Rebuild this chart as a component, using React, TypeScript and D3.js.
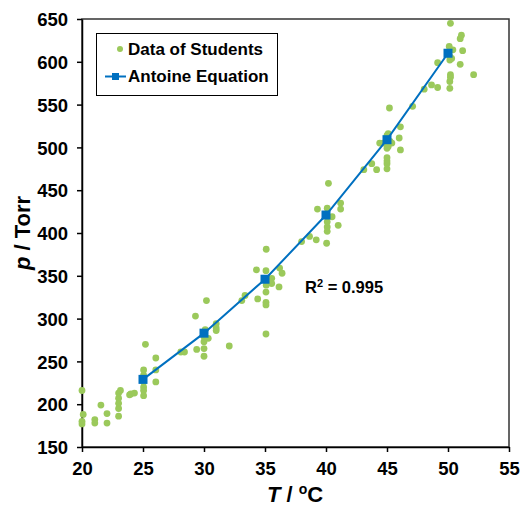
import { useEffect, useRef } from "react";
import * as d3 from "d3";

// student measurements (T in °C, p in Torr)
const studentT = [
  20.0, 20.1, 20.0, 20.0, 21.05, 21.05, 21.55, 22.05, 22.05, 23.0, 23.15, 23.0, 23.0, 23.0, 23.0,
  23.9, 24.0, 24.3, 25.05, 25.05, 25.05, 25.05, 25.05, 25.05, 25.2, 26.05, 26.05, 26.05,
  28.1, 28.4, 29.3, 29.4, 30.2, 30.1, 30.0, 30.0, 30.0, 30.0, 30.35, 31.0, 31.0, 31.0,
  32.07, 33.1, 33.36, 34.3, 34.4, 35.1, 35.08, 35.1, 35.08, 35.08, 35.08, 35.08, 35.55, 35.55,
  36.2, 36.4, 36.15, 38.0, 38.65, 39.2, 39.3, 40.05, 40.1, 40.1, 40.1, 40.1, 40.2, 40.5, 41.0,
  41.2, 41.2, 43.1, 43.75, 44.15, 44.4, 44.7, 45.0, 45.0, 45.0, 45.0, 45.0, 45.1, 45.0, 45.1,
  45.2, 45.25, 45.4, 46.0, 46.1, 46.1, 47.1, 48.05, 48.65, 49.15, 49.15, 50.15, 50.15, 50.2,
  50.2, 50.15, 50.3, 50.15, 50.4, 50.1, 50.2, 51.0, 51.0, 51.1, 51.2, 52.1,
];
const studentP = [
  216, 188, 180, 177, 182, 178, 199, 189, 178, 213, 216, 207, 201, 195, 186,
  211, 212, 213, 240, 234, 226, 220, 216, 210, 270, 254, 240, 226,
  261, 261, 303, 264, 321, 287, 279, 273, 265, 256, 277, 294, 289, 286,
  268, 321, 327, 357, 323, 381, 356, 339, 331, 319, 316, 282, 347, 341,
  359, 353, 337, 390, 396, 392, 428, 388, 402, 407, 413, 429, 458, 419, 409,
  435, 428, 474, 481, 474, 505, 505, 475, 481, 484, 488, 499, 501, 514, 516,
  546, 507, 505, 511, 524, 497, 548, 568, 573, 570, 599, 569, 577, 582,
  585, 602, 604, 606, 614, 618, 645, 597, 627, 631, 613, 585,
];

// Antoine equation fit
const antoineT = [25, 30, 35, 40, 45, 50];
const antoineP = [229, 283, 346, 421, 509, 610];

const xTicks = [20, 25, 30, 35, 40, 45, 50, 55];
const yTicks = [150, 200, 250, 300, 350, 400, 450, 500, 550, 600, 650];

const FONT = "'Liberation Sans', Arial, Helvetica, sans-serif";
const GREEN = "#9bc95b";
const BLUE = "#0070c0";

export default function App() {
  const svgRef = useRef<SVGSVGElement>(null);
  const width = 523;
  const height = 507;

  useEffect(() => {
    const margin = { top: 19, right: 14, bottom: 60, left: 82 };
    const svg = d3.select(svgRef.current);
    svg.selectAll("*").remove();

    const x = d3.scaleLinear().domain([20, 55]).range([margin.left, width - margin.right]);
    const y = d3.scaleLinear().domain([150, 650]).range([height - margin.bottom, margin.top]);

    // frame
    svg
      .append("rect")
      .attr("x", margin.left)
      .attr("y", margin.top)
      .attr("width", width - margin.right - margin.left)
      .attr("height", height - margin.bottom - margin.top)
      .attr("fill", "none")
      .attr("stroke", "#333")
      .attr("stroke-width", 1.5);

    const xAxis = svg
      .append("g")
      .attr("transform", `translate(0,${height - margin.bottom})`)
      .call(d3.axisBottom(x).tickValues(xTicks).tickSize(5).tickSizeOuter(0).tickPadding(10));
    const yAxis = svg
      .append("g")
      .attr("transform", `translate(${margin.left},0)`)
      .call(d3.axisLeft(y).tickValues(yTicks).tickSize(5).tickSizeOuter(0).tickPadding(9));

    [xAxis, yAxis].forEach((g) => {
      g.select(".domain").attr("stroke", "#000").attr("stroke-width", 1.5);
      g.selectAll(".tick line").attr("stroke", "#000").attr("stroke-width", 1.5);
      g.selectAll(".tick text")
        .attr("fill", "#000")
        .style("font-family", FONT)
        .style("font-weight", "bold")
        .style("font-size", "18.5px");
    });
    yAxis.selectAll(".tick text").attr("dy", "0.36em");

    // student points
    svg
      .append("g")
      .selectAll("circle")
      .data(studentT.map((t, i) => [t, studentP[i]]))
      .enter()
      .append("circle")
      .attr("cx", (d) => x(d[0]))
      .attr("cy", (d) => y(d[1]))
      .attr("r", 3.4)
      .attr("fill", GREEN);

    // antoine line
    const antoine = antoineT.map((t, i) => [t, antoineP[i]] as [number, number]);
    svg
      .append("path")
      .attr("d", d3.line<[number, number]>().x((d) => x(d[0])).y((d) => y(d[1]))(antoine))
      .attr("fill", "none")
      .attr("stroke", BLUE)
      .attr("stroke-width", 2);
    svg
      .append("g")
      .selectAll("rect")
      .data(antoine)
      .enter()
      .append("rect")
      .attr("x", (d) => x(d[0]) - 4.5)
      .attr("y", (d) => y(d[1]) - 4.5)
      .attr("width", 9)
      .attr("height", 9)
      .attr("fill", BLUE);

    // R² label
    const r2 = svg
      .append("text")
      .attr("x", 305)
      .attr("y", 293)
      .style("font-family", FONT)
      .style("font-weight", "bold")
      .style("font-size", "16.5px");
    r2.append("tspan").text("R");
    r2.append("tspan").attr("dy", -6).style("font-size", "11px").text("2");
    r2.append("tspan").attr("dy", 6).text(" = 0.995");

    // legend
    const lg = svg.append("g");
    lg.append("rect")
      .attr("x", 96.5)
      .attr("y", 33.5)
      .attr("width", 181)
      .attr("height", 62)
      .attr("fill", "#fff")
      .attr("stroke", "#000")
      .attr("stroke-width", 1);
    lg.append("circle").attr("cx", 120).attr("cy", 49).attr("r", 3).attr("fill", GREEN);
    lg.append("line")
      .attr("x1", 105)
      .attr("x2", 126)
      .attr("y1", 76.5)
      .attr("y2", 76.5)
      .attr("stroke", BLUE)
      .attr("stroke-width", 2);
    lg.append("rect").attr("x", 112).attr("y", 73).attr("width", 7).attr("height", 7).attr("fill", BLUE);
    lg.selectAll("text")
      .data(["Data of Students", "Antoine Equation"])
      .enter()
      .append("text")
      .attr("x", 128)
      .attr("y", (_, i) => 55 + i * 27)
      .style("font-family", FONT)
      .style("font-weight", "bold")
      .style("font-size", "17px")
      .text((d) => d);

    // axis titles
    const xt = svg
      .append("text")
      .attr("x", 295)
      .attr("y", 502)
      .attr("text-anchor", "middle")
      .style("font-family", FONT)
      .style("font-weight", "bold")
      .style("font-size", "22px");
    xt.append("tspan").style("font-style", "italic").text("T");
    xt.append("tspan").text(" / ");
    xt.append("tspan").attr("dy", -8).style("font-size", "14px").text("o");
    xt.append("tspan").attr("dy", 8).text("C");

    const yt = svg
      .append("text")
      .attr("transform", `translate(30,${(margin.top + height - margin.bottom) / 2}) rotate(-90)`)
      .attr("text-anchor", "middle")
      .style("font-family", FONT)
      .style("font-weight", "bold")
      .style("font-size", "22px");
    yt.append("tspan").style("font-style", "italic").text("p");
    yt.append("tspan").text(" / Torr");
  }, []);

  return (
    <svg
      ref={svgRef}
      width={width}
      height={height}
      style={{ position: "absolute", left: 0, top: 0, background: "#fff" }}
    ></svg>
  );
}
